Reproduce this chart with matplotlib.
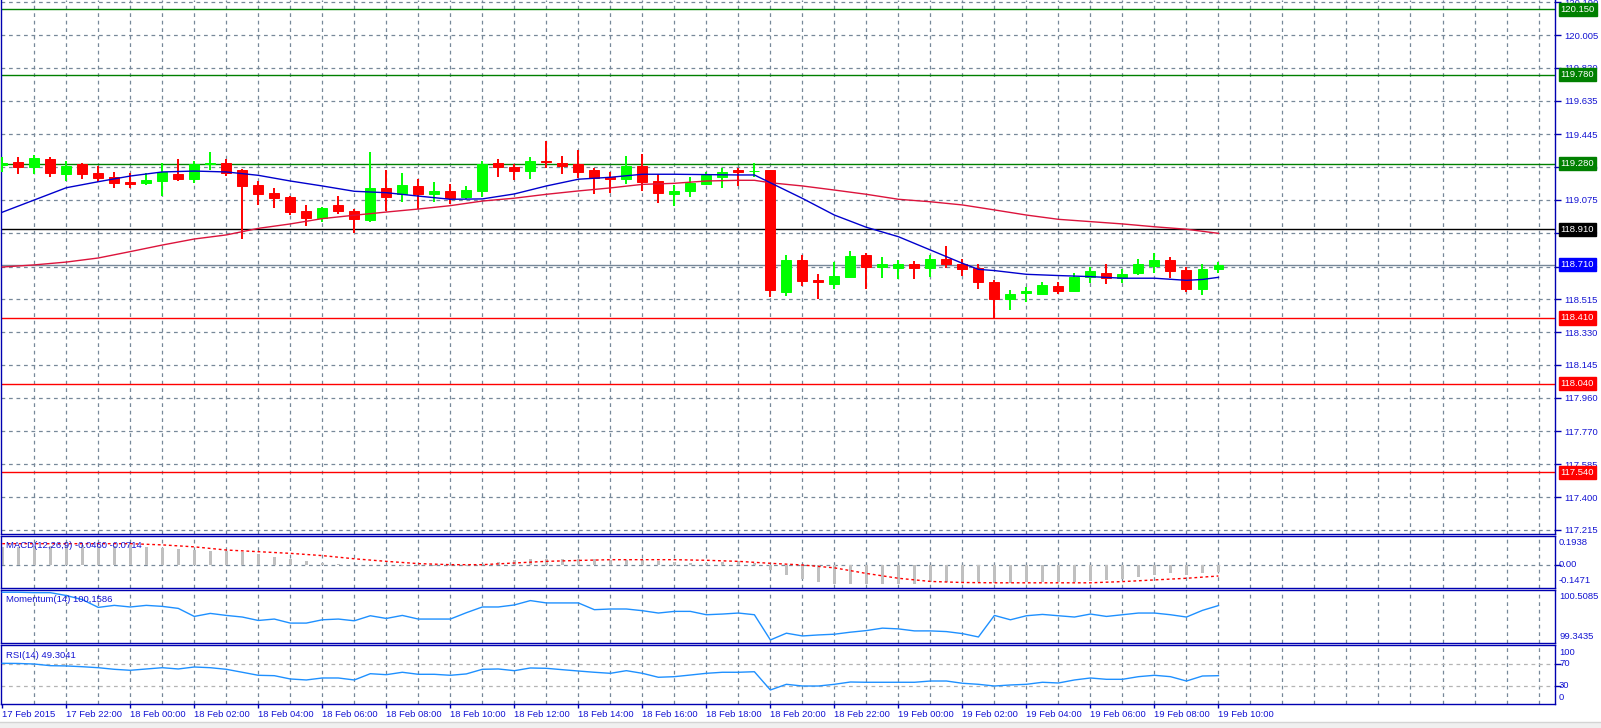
import matplotlib
matplotlib.use('Agg')
import matplotlib.pyplot as plt
from matplotlib.transforms import blended_transform_factory

# ---- data (30 min bars, 17 Feb 20:00 .. 19 Feb 10:00) ----
opens = [119.270, 119.289, 119.259, 119.306, 119.223, 119.278, 119.227, 119.205, 119.178, 119.173,
         119.182, 119.221, 119.193, 119.278, 119.283, 119.244, 119.160, 119.116, 119.092, 119.015,
         118.975, 119.047, 119.013, 118.962, 119.143, 119.109, 119.154, 119.111, 119.126, 119.094,
         119.126, 119.283, 119.261, 119.240, 119.293, 119.283, 119.276, 119.244, 119.203, 119.195,
         119.268, 119.182, 119.110, 119.126, 119.167, 119.206, 119.244, 119.237, 119.244, 118.558,
         118.737, 118.624, 118.603, 118.643, 118.765, 118.699, 118.693, 118.716, 118.693, 118.741,
         118.716, 118.692, 118.613, 118.517, 118.552, 118.547, 118.590, 118.564, 118.643, 118.663,
         118.635, 118.662, 118.705, 118.737, 118.680, 118.575, 118.684]
highs = [119.315, 119.319, 119.327, 119.319, 119.293, 119.282, 119.267, 119.233, 119.225, 119.225,
         119.282, 119.306, 119.295, 119.346, 119.306, 119.248, 119.182, 119.141, 119.099, 119.047,
         119.034, 119.097, 119.026, 119.346, 119.244, 119.227, 119.193, 119.176, 119.165, 119.154,
         119.295, 119.306, 119.278, 119.317, 119.407, 119.323, 119.357, 119.253, 119.233, 119.325,
         119.334, 119.220, 119.159, 119.206, 119.233, 119.255, 119.255, 119.282, 119.246, 118.765,
         118.765, 118.658, 118.725, 118.787, 118.776, 118.754, 118.737, 118.729, 118.763, 118.816,
         118.741, 118.714, 118.622, 118.568, 118.586, 118.614, 118.614, 118.663, 118.699, 118.714,
         118.686, 118.742, 118.778, 118.754, 118.699, 118.714, 118.724]
lows = [119.235, 119.221, 119.221, 119.205, 119.182, 119.193, 119.178, 119.143, 119.144, 119.160,
        119.099, 119.184, 119.171, 119.244, 119.212, 118.855, 119.045, 119.030, 118.990, 118.930,
        118.953, 118.998, 118.887, 118.953, 119.015, 119.065, 119.022, 119.065, 119.050, 119.080,
        119.092, 119.206, 119.188, 119.195, 119.255, 119.223, 119.199, 119.111, 119.116, 119.165,
        119.127, 119.060, 119.043, 119.092, 119.161, 119.144, 119.156, 119.206, 118.530, 118.535,
        118.592, 118.519, 118.572, 118.640, 118.573, 118.637, 118.631, 118.630, 118.643, 118.693,
        118.647, 118.573, 118.410, 118.455, 118.502, 118.545, 118.545, 118.558, 118.607, 118.601,
        118.605, 118.650, 118.665, 118.637, 118.558, 118.541, 118.662]
closes = [119.285, 119.263, 119.312, 119.229, 119.267, 119.223, 119.201, 119.171, 119.165, 119.188,
          119.233, 119.195, 119.276, 119.283, 119.229, 119.156, 119.111, 119.088, 119.009, 118.975,
          119.030, 119.015, 118.970, 119.143, 119.094, 119.160, 119.111, 119.126, 119.088, 119.131,
          119.276, 119.263, 119.240, 119.295, 119.289, 119.268, 119.233, 119.199, 119.195, 119.268,
          119.176, 119.116, 119.126, 119.169, 119.216, 119.233, 119.233, 119.240, 118.569, 118.737,
          118.620, 118.611, 118.647, 118.759, 118.699, 118.714, 118.714, 118.693, 118.741, 118.716,
          118.688, 118.614, 118.517, 118.545, 118.564, 118.596, 118.564, 118.643, 118.675, 118.635,
          118.658, 118.714, 118.737, 118.676, 118.575, 118.686, 118.710]

ma_fast_bar = [0, 2, 4, 6, 8, 10, 12, 14, 16, 18, 20, 22, 24, 26, 28, 30, 32, 34, 36, 38, 40, 42, 44,
               46, 47, 48, 50, 52, 54, 56, 58, 60, 61, 62, 64, 66, 68, 70, 72, 74, 75, 76]
ma_fast = [119.006, 119.075, 119.144, 119.178, 119.210, 119.233, 119.238, 119.233, 119.214, 119.182,
           119.154, 119.124, 119.116, 119.097, 119.079, 119.081, 119.109, 119.154, 119.192, 119.203,
           119.220, 119.220, 119.218, 119.216, 119.216, 119.172, 119.084, 118.990, 118.921, 118.868,
           118.793, 118.718, 118.684, 118.677, 118.656, 118.649, 118.643, 118.634, 118.634, 118.622,
           118.627, 118.639]
ma_slow_bar = [0, 2, 4, 6, 8, 10, 12, 14, 16, 18, 20, 22, 24, 26, 28, 30, 32, 34, 36, 38, 40, 42, 44,
               46, 47, 48, 50, 52, 54, 56, 58, 60, 62, 64, 66, 68, 70, 72, 74, 76]
ma_slow = [118.697, 118.709, 118.725, 118.748, 118.784, 118.821, 118.855, 118.878, 118.915, 118.940,
           118.970, 118.989, 119.007, 119.024, 119.043, 119.069, 119.085, 119.107, 119.126, 119.143,
           119.163, 119.169, 119.182, 119.186, 119.186, 119.172, 119.154, 119.131, 119.107, 119.079,
           119.065, 119.047, 119.019, 118.990, 118.966, 118.953, 118.940, 118.924, 118.910, 118.887]

macd_main = [0.120, 0.118, 0.129, 0.129, 0.135, 0.135, 0.129, 0.129, 0.135, 0.118,
             0.114, 0.107, 0.101, 0.096, 0.096, 0.086, 0.075, 0.058, 0.039, 0.026,
             0.015, 0.006, 0.004, 0.002, 0.000, -0.002, -0.003, -0.004, -0.004, -0.003,
             0.008, 0.021, 0.032, 0.039, 0.043, 0.043, 0.039, 0.039, 0.032, 0.037,
             0.032, 0.028, 0.021, 0.015, 0.017, 0.021, 0.026, 0.015, -0.032, -0.064,
             -0.090, -0.109, -0.127, -0.127, -0.127, -0.127, -0.127, -0.124, -0.114, -0.114,
             -0.114, -0.109, -0.118, -0.118, -0.114, -0.114, -0.114, -0.111, -0.107, -0.096,
             -0.090, -0.075, -0.066, -0.053, -0.064, -0.053, -0.046]
signal_bar = list(range(0, 77, 2))
macd_signal = [0.143, 0.143, 0.143, 0.143, 0.143, 0.135, 0.122, 0.101, 0.090, 0.079,
               0.064, 0.043, 0.026, 0.011, 0.004, 0.004, 0.015, 0.026, 0.032, 0.037,
               0.037, 0.037, 0.033, 0.026, 0.013, 0.002, -0.017, -0.054, -0.086, -0.107,
               -0.114, -0.116, -0.116, -0.116, -0.116, -0.108, -0.097, -0.086, -0.071]

momentum = [100.449, 100.449, 100.440, 100.440, 100.377, 100.289, 100.119, 100.163, 100.128, 100.163,
            100.141, 100.097, 99.922, 99.988, 99.944, 99.909, 99.834, 99.865, 99.777, 99.777,
            99.849, 99.865, 99.827, 99.937, 99.878, 99.944, 99.865, 99.865, 99.865, 100.003,
            100.128, 100.128, 100.172, 100.267, 100.216, 100.216, 100.216, 100.069, 100.084, 100.084,
            100.047, 99.996, 100.032, 100.032, 99.959, 99.974, 99.996, 99.959, 99.410, 99.557,
            99.497, 99.519, 99.535, 99.579, 99.614, 99.667, 99.651, 99.607, 99.607, 99.592,
            99.548, 99.475, 99.944, 99.849, 99.937, 99.966, 99.937, 99.909, 99.974, 99.922,
            99.959, 99.996, 99.996, 99.959, 99.909, 100.054, 100.159]

rsi = [71.8, 71.5, 70.5, 67.5, 67.0, 65.6, 63.8, 60.9, 59.1, 61.5,
       63.8, 61.5, 65.1, 63.8, 60.9, 55.5, 50.0, 49.3, 43.3, 41.5,
       45.1, 45.1, 41.5, 52.9, 51.1, 55.5, 51.8, 51.8, 50.0, 52.5,
       60.9, 61.5, 58.4, 63.3, 62.7, 60.2, 57.8, 55.5, 53.6, 58.4,
       53.6, 46.4, 47.5, 50.5, 53.6, 55.5, 55.5, 56.5, 23.3, 33.6,
       30.5, 30.5, 33.6, 37.8, 37.3, 37.3, 37.3, 37.3, 39.6, 39.6,
       35.5, 33.6, 30.5, 32.4, 33.6, 37.3, 36.0, 41.5, 45.1, 42.7,
       42.7, 47.5, 50.0, 47.5, 39.6, 48.7, 49.3]

price_ticks = [120.190, 120.005, 119.820, 119.635, 119.445, 119.260, 119.075, 118.890, 118.700,
               118.515, 118.330, 118.145, 117.960, 117.770, 117.585, 117.400, 117.215]
levels = [120.150, 119.780, 119.280, 118.910, 118.710, 118.410, 118.040, 117.540]
level_colors = ['#008000', '#008000', '#008000', '#000000', '#0000ff', '#ff0000', '#ff0000', '#ff0000']

time_labels = ['17 Feb 2015', '17 Feb 22:00', '18 Feb 00:00', '18 Feb 02:00', '18 Feb 04:00',
               '18 Feb 06:00', '18 Feb 08:00', '18 Feb 10:00', '18 Feb 12:00', '18 Feb 14:00',
               '18 Feb 16:00', '18 Feb 18:00', '18 Feb 20:00', '18 Feb 22:00', '19 Feb 00:00',
               '19 Feb 02:00', '19 Feb 04:00', '19 Feb 06:00', '19 Feb 08:00', '19 Feb 10:00']
time_label_bar = list(range(0, 77, 4))

# ---- style ----
W, H = 1601, 728
GRID = '#778899'
AXC = '#0000b0'
TXT = '#1414d2'
FS = 6.8
plt.rcParams['font.family'] = ['Liberation Sans', 'DejaVu Sans']


def px_box(x0, y0, x1, y1):
    return [x0 / W, 1 - y1 / H, (x1 - x0) / W, (y1 - y0) / H]


fig = plt.figure(figsize=(W / 100, H / 100), dpi=100)
fig.patch.set_facecolor('white')

ax = fig.add_axes(px_box(0.5, 0, 1555, 534))
ax_macd = fig.add_axes(px_box(0.5, 536, 1555, 587.5))
ax_mom = fig.add_axes(px_box(0.5, 589.5, 1555, 643))
ax_rsi = fig.add_axes(px_box(0.5, 645, 1555, 703.5))

xmin, xmax = -0.11, 97.03
dash = (0, (3, 3))
for a in (ax, ax_macd, ax_mom, ax_rsi):
    a.set_xlim(xmin, xmax)
    a.set_facecolor('white')
    for s in a.spines.values():
        s.set_color(AXC)
        s.set_linewidth(1.0)
    for k in range(2, 97, 2):
        a.axvline(k, color=GRID, lw=0.9, ls=dash, zorder=0)
    a.set_xticks([])
ax.spines['top'].set_visible(False)

# ---- main price panel ----
ax.set_ylim(117.1921, 120.2023)
for t in price_ticks:
    ax.axhline(t, color=GRID, lw=0.9, ls=dash, zorder=0)
for v, c in zip(levels, level_colors):
    lc = GRID if c == '#0000ff' else c
    ax.axhline(v, color=lc, lw=1.0, zorder=1)

n = len(opens)
for k in range(n):
    o, h, l, c = opens[k], highs[k], lows[k], closes[k]
    col = '#00ff00' if c >= o else '#ff0000'
    ax.vlines(k, l, h, color=col, lw=1.4, zorder=3)
    ax.bar(k, c - o, bottom=o, width=0.62, color=col, edgecolor=col, linewidth=0.7, zorder=3)

ax.plot(ma_slow_bar, ma_slow, color='#dc143c', lw=1.0, zorder=4)
ax.plot(ma_fast_bar, ma_fast, color='#0000cd', lw=1.0, zorder=4)

ax.yaxis.tick_right()
ax.set_yticks(price_ticks)
ax.set_yticklabels(['%.3f' % t for t in price_ticks])
ax.tick_params(axis='y', direction='out', length=4, width=1, color=AXC, labelcolor=TXT,
               labelsize=FS, pad=2.5)

tr = blended_transform_factory(ax.transAxes, ax.transData)
for v, c in zip(levels, level_colors):
    ax.text(1.0037, v, '%.3f' % v, transform=tr, ha='left', va='center', color='white',
            fontsize=FS, zorder=6, clip_on=False,
            bbox=dict(boxstyle='square,pad=0.22', fc=c, ec=c))

# ---- MACD ----
ax_macd.set_ylim(-0.1471, 0.1938)
ax_macd.axhline(0, color=GRID, lw=0.9, ls=dash, zorder=0)
ax_macd.bar(range(n), macd_main, width=0.16, color='#c0c0c0', zorder=2)
ax_macd.plot(signal_bar, macd_signal, color='#ff0000', lw=1.0, ls=(0, (2, 2)), zorder=3)
ax_macd.set_yticks([0])
ax_macd.yaxis.tick_right()
ax_macd.set_yticklabels([''])
ax_macd.tick_params(axis='y', direction='out', length=4, width=1, color=AXC)

# ---- Momentum ----
ax_mom.set_ylim(99.3435, 100.5085)
ax_mom.plot(range(n), momentum, color='#1e90ff', lw=1.0, zorder=3)
ax_mom.set_yticks([])

# ---- RSI ----
ax_rsi.set_ylim(-1.3, 105.1)
for lv in (30, 70):
    ax_rsi.axhline(lv, color='#b4b4b4', lw=0.9, ls=dash, zorder=0)
ax_rsi.plot(range(n), rsi, color='#1e90ff', lw=1.0, zorder=3)
ax_rsi.yaxis.tick_right()
ax_rsi.set_yticks([30, 70])
ax_rsi.set_yticklabels(['', ''])
ax_rsi.tick_params(axis='y', direction='out', length=4, width=1, color=AXC)

# time axis
ax_rsi.set_xticks(time_label_bar)
ax_rsi.set_xticklabels(time_labels, ha='left')
ax_rsi.tick_params(axis='x', direction='out', length=3, width=1, color=AXC, labelcolor=TXT,
                   labelsize=FS, pad=2)

# indicator captions
fig.text(6 / W, 1 - 545 / H, 'MACD(12,26,9) -0.0460 -0.0714', color=TXT, fontsize=FS, va='center')
fig.text(6 / W, 1 - 599 / H, 'Momentum(14) 100,1586', color=TXT, fontsize=FS, va='center')
fig.text(6 / W, 1 - 655 / H, 'RSI(14) 49.3041', color=TXT, fontsize=FS, va='center')

# sub-panel scale labels
side = [('0.1938', 542.7), ('0.00', 564.3), ('-0.1471', 580.7),
        ('100.5085', 596.7), ('99.3435', 636.7),
        ('100', 652.3), ('70', 664.0), ('30', 685.7), ('0', 697.3)]
for s, yp in side:
    fig.text(1559 / W, 1 - yp / H, s, color=TXT, fontsize=FS, va='center', ha='left')

# window bottom frame
fig.add_artist(plt.Line2D([0, 1], [1 - 722 / H, 1 - 722 / H], color='#d4d4d4', lw=1.0))
fig.add_artist(plt.Rectangle((0, 0), 1, 6 / H, color='#f0f0f0', lw=0))

fig.savefig('out.png', dpi=100)
